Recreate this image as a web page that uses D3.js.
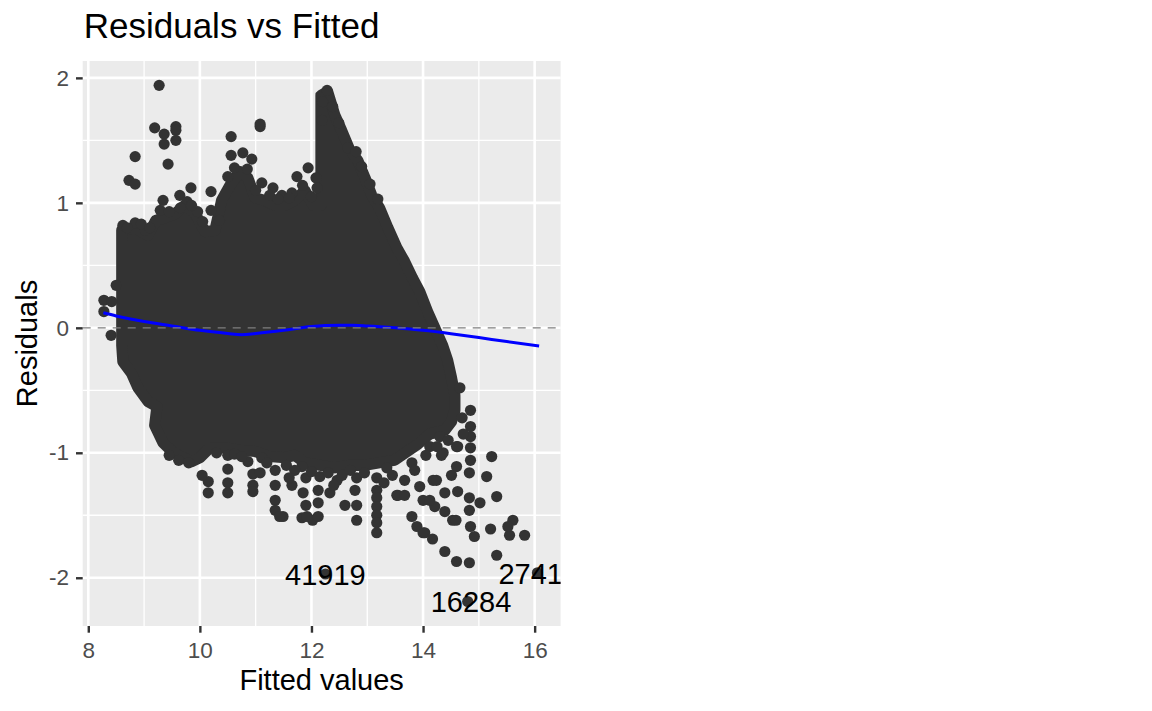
<!DOCTYPE html>
<html>
<head>
<meta charset="utf-8">
<script src="https://cdn.jsdelivr.net/npm/d3@7.9.0/dist/d3.min.js"></script>
<style>
    body { margin: 0; background: #ffffff; }
    svg { display: block; font-family: "Liberation Sans", Arial, Helvetica, sans-serif; }
</style>
</head>
<body>
<svg id="chart" width="1152" height="711"></svg>
<script>
// axis limits and ticks
const xLimits = [7.9, 16.465];
const yLimits = [-2.386, 2.135];
const xTicks = [8, 10, 12, 14, 16];
const xMinor = [9, 11, 13, 15];
const yTicks = [-2, -1, 0, 1, 2];
const yMinor = [-1.5, -0.5, 0.5, 1.5];

// outline of the solid mass of points: [fitted, residual], upper edge left to right
const cloudUpper = [
    [8.60, -0.14], [8.60, 0.70], [8.60, 0.78], [8.84, 0.80], [9.07, 0.74], [9.21, 0.86],
    [9.37, 0.88], [9.55, 0.91], [9.73, 0.98], [9.91, 0.92], [10.09, 0.77], [10.27, 0.78],
    [10.39, 1.02], [10.54, 1.14], [10.72, 1.25], [10.86, 1.20], [10.99, 1.04], [11.16, 1.02],
    [11.34, 0.98], [11.52, 0.98], [11.70, 1.02], [11.88, 1.10], [12.03, 0.98], [12.17, 0.98],
    [12.17, 1.86], [12.29, 1.89], [12.42, 1.70], [12.54, 1.58], [12.69, 1.42], [12.83, 1.34],
    [12.96, 1.20], [13.08, 1.06], [13.22, 0.96], [13.37, 0.80], [13.53, 0.64], [13.67, 0.53],
    [13.81, 0.40], [13.94, 0.29], [14.08, 0.13], [14.23, -0.02], [14.35, -0.14], [14.44, -0.26],
    [14.51, -0.40], [14.57, -0.54], [14.57, -0.66], [14.51, -0.75]
];
// lower edge, right to left
const cloudLower = [
    [14.39, -0.82], [14.12, -0.85], [13.91, -0.93], [13.68, -1.00], [13.49, -1.06], [13.22, -1.08],
    [12.96, -1.10], [12.69, -1.10], [12.42, -1.12], [12.15, -1.10], [11.88, -1.08], [11.70, -1.02],
    [11.52, -1.04], [11.25, -1.03], [10.99, -0.99], [10.72, -0.98], [10.45, -0.96], [10.18, -0.96],
    [10.00, -1.04], [9.86, -1.07], [9.70, -1.04], [9.50, -0.99], [9.34, -0.92], [9.19, -0.78],
    [9.23, -0.63], [9.07, -0.59], [8.89, -0.48], [8.77, -0.36], [8.62, -0.27]
];

// single points standing out above the mass
const upperPoints = [
    [9.27, 1.94], [9.19, 1.60], [9.36, 1.55], [9.36, 1.47], [9.57, 1.61], [9.57, 1.58], [9.57, 1.50],
    [8.84, 1.37], [9.43, 1.31], [8.73, 1.18], [8.84, 1.15], [10.56, 1.53], [10.56, 1.38], [11.08, 1.61],
    [11.08, 1.63], [10.77, 1.40], [10.93, 1.35], [10.20, 1.09], [10.20, 0.94], [9.84, 1.12], [9.64, 1.06],
    [9.77, 1.01], [9.96, 0.93], [10.50, 1.21], [11.11, 1.16], [11.31, 1.12], [11.47, 1.06], [11.65, 1.08],
    [11.74, 1.21], [11.94, 1.28], [11.84, 1.14], [8.28, 0.22], [8.28, 0.13], [8.42, 0.21], [8.50, 0.34],
    [8.41, -0.06], [8.84, 0.84], [9.02, 0.78], [9.34, 1.02], [9.29, 0.94], [12.28, 1.90], [12.20, 1.81],
    [12.38, 1.77], [12.49, 1.64], [12.19, 1.66], [12.65, 1.44], [12.80, 1.41], [12.90, 1.29], [13.05, 1.15],
    [13.19, 1.03], [8.62, 0.82], [8.70, 0.80], [8.95, 0.83], [9.10, 0.80], [9.45, 0.93], [9.65, 0.96],
    [9.85, 0.98], [10.05, 0.85], [10.35, 0.86], [10.62, 1.28], [10.85, 1.27], [11.00, 1.10], [11.25, 1.06],
    [11.40, 1.03], [11.60, 1.04], [12.00, 1.05], [12.08, 1.20], [12.10, 1.12]
];
// single points trailing below the mass
const lowerPoints = [
    [10.15, -1.23], [10.15, -1.32], [10.04, -1.18], [10.50, -1.02], [10.50, -1.13], [10.50, -1.24],
    [10.50, -1.32], [10.86, -1.07], [10.95, -1.17], [10.95, -1.26], [10.95, -1.31], [11.11, -1.04],
    [11.08, -1.16], [11.35, -1.14], [11.35, -1.26], [11.35, -1.38], [11.35, -1.46], [11.49, -1.51],
    [11.43, -1.51], [11.65, -1.26], [11.83, -1.11], [11.83, -1.52], [12.02, -1.54], [11.85, -1.32],
    [11.90, -1.20], [11.90, -1.42], [11.92, -1.51], [12.12, -1.51], [12.12, -1.30], [12.12, -1.40],
    [12.15, -1.19], [12.33, -1.32], [12.46, -1.22], [12.78, -1.30], [12.81, -1.20], [12.81, -1.42],
    [12.81, -1.54], [12.60, -1.42], [13.17, -1.20], [13.17, -1.30], [13.17, -1.36], [13.17, -1.43],
    [13.17, -1.50], [13.17, -1.56], [13.17, -1.64], [13.55, -1.34], [13.80, -1.51], [14.00, -1.64],
    [14.18, -1.22], [14.39, -1.32], [14.53, -1.54], [14.60, -0.95], [14.33, -1.02], [14.66, -0.48],
    [14.85, -0.66], [14.85, -0.79], [14.85, -0.87], [14.85, -0.96], [14.85, -1.06], [14.83, -1.16],
    [15.23, -1.03], [15.14, -1.19], [15.32, -1.35], [14.62, -0.95], [14.60, -1.11], [14.51, -1.18],
    [14.24, -1.22], [14.62, -1.31], [14.83, -1.36], [15.02, -1.40], [14.83, -1.46], [14.85, -1.59],
    [14.92, -1.67], [14.59, -1.54], [14.39, -1.47], [14.21, -1.43], [14.00, -1.38], [13.89, -1.59],
    [14.03, -1.64], [14.17, -1.69], [14.39, -1.79], [14.60, -1.87], [14.83, -1.88], [15.21, -1.61],
    [15.32, -1.82], [15.55, -1.66], [15.61, -1.54], [15.52, -1.59], [15.82, -1.66], [16.05, -1.96],
    [14.80, -2.19], [12.25, -1.97], [13.53, -1.34], [13.67, -1.34], [13.67, -1.22], [14.12, -0.95],
    [14.30, -0.87], [14.36, -1.00], [13.94, -1.27], [14.12, -1.38], [9.45, -1.02], [9.62, -1.06],
    [9.80, -1.08], [10.30, -1.00], [10.62, -1.01], [10.75, -1.03], [11.20, -1.08], [11.55, -1.10],
    [11.70, -1.14], [12.00, -1.15], [12.30, -1.16], [12.55, -1.18], [12.70, -1.14], [12.95, -1.16],
    [13.35, -1.12], [13.45, -1.18], [13.80, -1.08], [13.85, -1.14], [14.05, -1.02], [14.25, -0.95],
    [14.45, -0.90], [13.30, -1.24], [12.40, -1.26], [11.60, -1.20], [14.70, -0.72], [14.72, -0.85]
];

// loess smooth
const smoothFitted = [8.27, 8.5, 9.0, 9.5, 10.0, 10.5, 10.75, 11.0, 11.5, 12.0, 12.5, 12.75, 13.0, 13.5, 14.0, 14.5, 15.0, 15.5, 16.08];
const smoothResid = [0.12, 0.095, 0.05, 0.015, -0.02, -0.045, -0.055, -0.045, -0.02, 0.01, 0.02, 0.02, 0.015, 0.0, -0.02, -0.047, -0.078, -0.11, -0.145];

// labelled observations
const labelIds = ["41919", "16284", "2741"];
const labelFitted = [12.25, 14.86, 15.93];
const labelResid = [-1.98, -2.19, -1.97];

const svg = d3.select("#chart");
const panel = { left: 82.7, top: 61, right: 560.6, bottom: 626 };

let x = d3.scaleLinear().domain(xLimits).range([panel.left, panel.right]);
let y = d3.scaleLinear().domain(yLimits).range([panel.bottom, panel.top]);

// panel background
svg.append("rect")
    .attr("x", panel.left).attr("y", panel.top)
    .attr("width", panel.right - panel.left)
    .attr("height", panel.bottom - panel.top)
    .attr("fill", "#EBEBEB");

svg.append("clipPath").attr("id", "panel-clip")
    .append("rect")
    .attr("x", panel.left).attr("y", panel.top)
    .attr("width", panel.right - panel.left)
    .attr("height", panel.bottom - panel.top);

let grid = svg.append("g");
// minor grid
grid.selectAll(".vminor").data(xMinor).join("line")
    .attr("x1", d => x(d)).attr("x2", d => x(d))
    .attr("y1", panel.top).attr("y2", panel.bottom)
    .attr("stroke", "#fff").attr("stroke-width", 1.3);
grid.selectAll(".hminor").data(yMinor).join("line")
    .attr("y1", d => y(d)).attr("y2", d => y(d))
    .attr("x1", panel.left).attr("x2", panel.right)
    .attr("stroke", "#fff").attr("stroke-width", 1.3);
// major grid
grid.selectAll(".vmajor").data(xTicks).join("line")
    .attr("x1", d => x(d)).attr("x2", d => x(d))
    .attr("y1", panel.top).attr("y2", panel.bottom)
    .attr("stroke", "#fff").attr("stroke-width", 2.6);
grid.selectAll(".hmajor").data(yTicks).join("line")
    .attr("y1", d => y(d)).attr("y2", d => y(d))
    .attr("x1", panel.left).attr("x2", panel.right)
    .attr("stroke", "#fff").attr("stroke-width", 2.6);

let plot = svg.append("g").attr("clip-path", "url(#panel-clip)");

// the solid mass of overlapping points
const pointRadius = 5.6;
let outline = d3.line()
    .x(d => x(d[0]))
    .y(d => y(d[1]))
    .curve(d3.curveLinearClosed);

plot.append("path")
    .attr("d", outline(cloudUpper.concat(cloudLower)))
    .attr("fill", "#333333")
    .attr("stroke", "#333333")
    .attr("stroke-width", pointRadius * 2)
    .attr("stroke-linejoin", "round");

plot.selectAll("circle.pt")
    .data(upperPoints.concat(lowerPoints))
    .join("circle")
    .attr("class", "pt")
    .attr("cx", d => x(d[0]))
    .attr("cy", d => y(d[1]))
    .attr("r", pointRadius)
    .attr("fill", "#333333");

// smooth line
let smooth = d3.line()
    .x(d => x(d[0]))
    .y(d => y(d[1]))
    .curve(d3.curveMonotoneX);

plot.append("path")
    .attr("d", smooth(d3.zip(smoothFitted, smoothResid)))
    .attr("fill", "none")
    .attr("stroke", "#0000FF")
    .attr("stroke-width", 3);

// zero reference
plot.append("line")
    .attr("x1", panel.left).attr("x2", panel.right)
    .attr("y1", y(0)).attr("y2", y(0))
    .attr("stroke", "#7F7F7F")
    .attr("stroke-width", 1.3)
    .attr("stroke-dasharray", "8,7");

// labels of extreme residuals
plot.selectAll("text.lab")
    .data(labelIds)
    .join("text")
    .attr("class", "lab")
    .attr("x", (d, i) => x(labelFitted[i]))
    .attr("y", (d, i) => y(labelResid[i]))
    .attr("text-anchor", "middle")
    .attr("dominant-baseline", "central")
    .attr("font-size", 29)
    .attr("fill", "#000")
    .text(d => d);

// axes
let xAxis = svg.append("g")
    .attr("transform", `translate(0,${panel.bottom})`)
    .call(d3.axisBottom(x).tickValues(xTicks).tickSize(6.7).tickPadding(9.7).tickFormat(d => String(d)));
let yAxis = svg.append("g")
    .attr("transform", `translate(${panel.left},0)`)
    .call(d3.axisLeft(y).tickValues(yTicks).tickSize(6.7).tickPadding(7).tickFormat(d => String(d)));

[xAxis, yAxis].forEach(ax => {
    ax.select(".domain").remove();
    ax.selectAll(".tick line").attr("stroke", "#333333").attr("stroke-width", 2.4);
    ax.selectAll(".tick text")
        .attr("fill", "#4D4D4D")
        .attr("font-size", 22.5)
        .attr("font-family", "'Liberation Sans', Arial, sans-serif");
});

// titles
svg.append("text")
    .attr("x", panel.left + 1)
    .attr("y", 37.5)
    .attr("font-size", 35)
    .attr("fill", "#000")
    .text("Residuals vs Fitted");

svg.append("text")
    .attr("x", (panel.left + panel.right) / 2)
    .attr("y", 690)
    .attr("text-anchor", "middle")
    .attr("font-size", 29)
    .attr("fill", "#000")
    .text("Fitted values");

svg.append("text")
    .attr("transform", `translate(37,${(panel.top + panel.bottom) / 2}) rotate(-90)`)
    .attr("text-anchor", "middle")
    .attr("font-size", 29)
    .attr("fill", "#000")
    .text("Residuals");
</script>
</body>
</html>
